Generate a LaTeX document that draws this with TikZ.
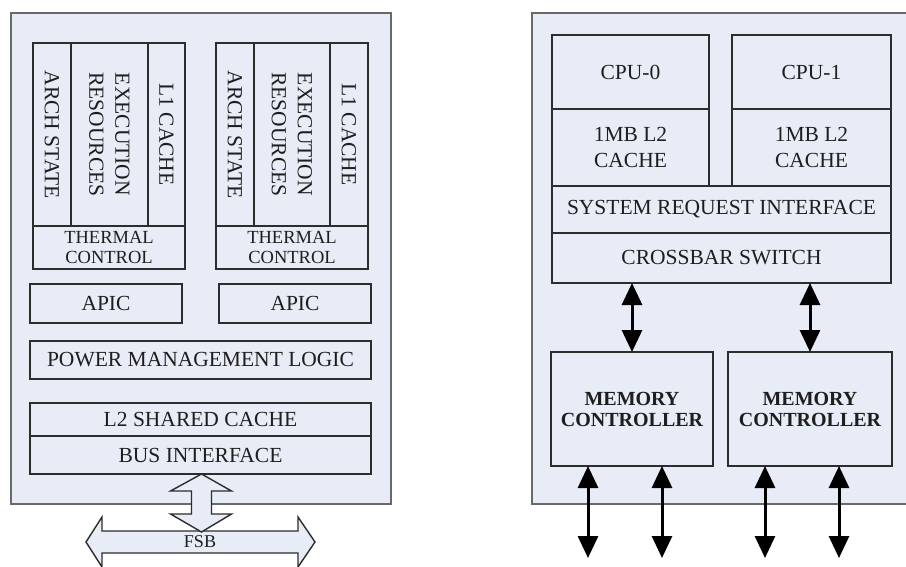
\documentclass[tikz,border=0pt]{standalone}
\usepackage{fontspec}
\setmainfont{Liberation Serif}
\usetikzlibrary{arrows.meta,calc}
\definecolor{boxfill}{RGB}{232,236,246}
\definecolor{outerline}{RGB}{105,105,105}
\definecolor{innerline}{RGB}{45,45,45}
\definecolor{txt}{RGB}{30,30,30}
\begin{document}
\begin{tikzpicture}[x=1pt,y=-1pt,
  outerbox/.style={draw=outerline, line width=2pt, fill=boxfill, inner sep=0pt, outer sep=0pt},
  blk/.style={draw=innerline, line width=1.6pt, fill=boxfill, inner sep=0pt, outer sep=0pt, text=txt, font=\fontsize{21.5}{26}\selectfont, align=center},
  vblk/.style={blk, rotate=-90},
  smalltext/.style={font=\fontsize{18.5}{20}\selectfont},
  memtext/.style={font=\fontsize{20}{21}\selectfont\bfseries},
  bidir/.style={{Triangle[length=22pt,width=20pt]}-{Triangle[length=22pt,width=20pt]}, line width=3pt, draw=black},
  fsbarrow/.style={draw=innerline, line width=1.4pt, fill=boxfill, line join=miter}
]
\useasboundingbox (0,0) rectangle (906,567);
\clip (0,0) rectangle (906,567);
\fill[white] (0,0) rectangle (906,567);

% ---------------- left chip ----------------
\node[outerbox, minimum width=380, minimum height=491] (outL) at (201,258.5) {};

\node[vblk, minimum width=183, minimum height=38] (arch1) at (52,134.5) {ARCH STATE};
\node[vblk, minimum width=183, minimum height=77] (exec1) at (109.5,134.5) {EXECUTION\\RESOURCES};
\node[vblk, minimum width=183, minimum height=37] (lone1) at (166.5,134.5) {L1 CACHE};
\node[blk, smalltext, minimum width=152, minimum height=43] (therm1) at (109,247.5) {THERMAL\\CONTROL};

\node[vblk, minimum width=183, minimum height=38] (arch2) at (235,134.5) {ARCH STATE};
\node[vblk, minimum width=183, minimum height=76] (exec2) at (292,134.5) {EXECUTION\\RESOURCES};
\node[vblk, minimum width=183, minimum height=38] (lone2) at (349,134.5) {L1 CACHE};
\node[blk, smalltext, minimum width=152, minimum height=43] (therm2) at (292,247.5) {THERMAL\\CONTROL};

\node[blk, minimum width=152, minimum height=39] (apic1) at (106,303.5) {APIC};
\node[blk, minimum width=152, minimum height=39] (apic2) at (295,303.5) {APIC};
\node[blk, minimum width=341, minimum height=38] (pml) at (200.5,360) {POWER MANAGEMENT LOGIC};
\node[blk, minimum width=341, minimum height=33] (l2s) at (200.5,419.5) {L2 SHARED CACHE};
\node[blk, minimum width=341, minimum height=38] (bus) at (200.5,455) {BUS INTERFACE};

% FSB
\draw[fsbarrow] (86,542) -- (102,517) -- (102,531) -- (298,531) -- (298,517) -- (315,542)
  -- (298,567) -- (298,553) -- (102,553) -- (102,567) -- cycle;
\begin{scope}[shift={(bus.south)}]
\draw[fsbarrow] (1,0) -- (31,17) -- (11,17) -- (11,40) -- (31,40) -- (1,58)
  -- (-30,40) -- (-9,40) -- (-9,17) -- (-30,17) -- cycle;
\end{scope}
\node[font=\fontsize{18}{18}\selectfont, text=txt, inner sep=0pt] (fsb) at (200,542) {FSB};

% ---------------- right chip ----------------
\node[outerbox, minimum width=400, minimum height=491, anchor=north west] (outR) at (532,13) {};

\node[blk, minimum width=157, minimum height=74] (cpu0) at (630.5,72) {CPU-0};
\node[blk, minimum width=157, minimum height=77] (l2a) at (630.5,147.5) {1MB L2\\CACHE};
\node[blk, minimum width=159, minimum height=74] (cpu1) at (811.5,72) {CPU-1};
\node[blk, minimum width=159, minimum height=77] (l2b) at (811.5,147.5) {1MB L2\\CACHE};
\node[blk, minimum width=339, minimum height=47] (sri) at (721.5,209.5) {SYSTEM REQUEST INTERFACE};
\node[blk, minimum width=339, minimum height=50] (xbar) at (721.5,258) {CROSSBAR SWITCH};

\node[blk, memtext, minimum width=162, minimum height=114] (mc1) at (632,409) {MEMORY\\CONTROLLER};
\node[blk, memtext, minimum width=164, minimum height=114] (mc2) at (810,409) {MEMORY\\CONTROLLER};

\draw[bidir] (mc1.north |- xbar.south) -- (mc1.north);
\draw[bidir] (mc2.north |- xbar.south) -- (mc2.north);

\coordinate (o1) at (588,558);
\coordinate (o2) at (662,558);
\coordinate (o3) at (765,558);
\coordinate (o4) at (839,558);
\draw[bidir] (o1 |- mc1.south) -- (o1);
\draw[bidir] (o2 |- mc1.south) -- (o2);
\draw[bidir] (o3 |- mc2.south) -- (o3);
\draw[bidir] (o4 |- mc2.south) -- (o4);
\end{tikzpicture}
\end{document}
